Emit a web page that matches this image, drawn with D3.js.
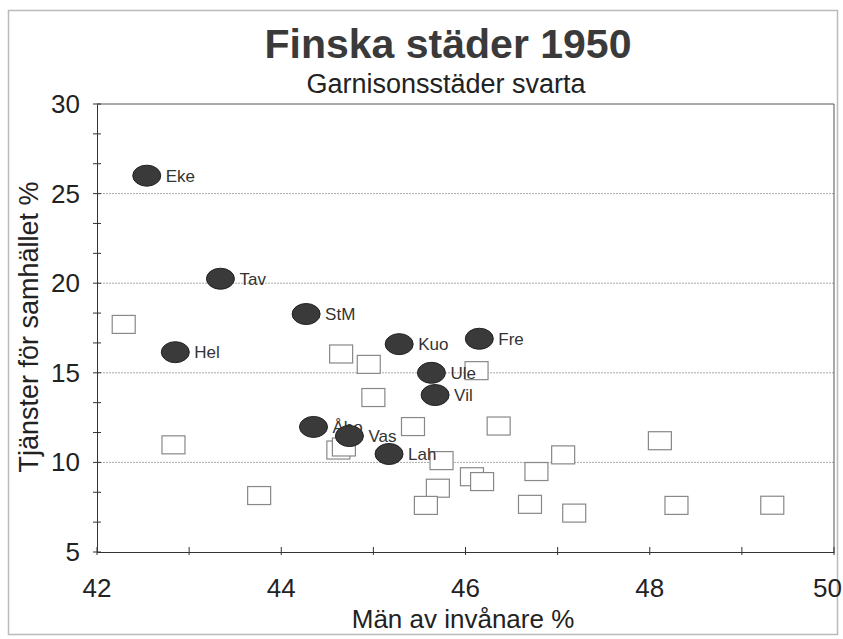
<!DOCTYPE html>
<html><head><meta charset="utf-8">
<script src="https://cdn.jsdelivr.net/npm/d3@7"></script>
<style>body{margin:0;background:#fff}svg{display:block}text{font-family:"Liberation Sans",Arial,sans-serif}</style>
</head><body><svg id="c" width="843" height="639"></svg>
<script>
// Garrison cities (black)
const garrisonNames = ["Eke","Tav","StM","Hel","Kuo","Fre","Ule","Vil","Åbo","Vas","Lah"];
const garrisonX = [42.54,43.34,44.27,42.85,45.28,46.15,45.63,45.67,44.35,44.74,45.17];
const garrisonY = [26.0,20.25,18.28,16.15,16.6,16.9,15.0,13.76,11.98,11.47,10.47];
// Other cities (hollow squares)
const otherX = [42.29,42.83,43.76,44.65,44.95,46.12,45.0,45.43,46.36,48.11,44.62,44.68,45.74,47.06,46.07,46.18,46.77,45.70,45.57,46.70,47.18,48.29,49.33];
const otherY = [17.7,10.98,8.15,16.05,15.47,15.12,13.62,12.0,12.03,11.21,10.69,10.86,10.1,10.42,9.2,8.93,9.49,8.56,7.6,7.66,7.17,7.6,7.61];
const xTicks = [42,44,46,48,50];
const yTicks = [5,10,15,20,25,30];
const titleText = "Finska städer 1950";
const subtitleText = "Garnisonsstäder svarta";
const xTitle = "Män av invånare %";
const yTitle = "Tjänster för samhället %";

const svg = d3.select("#c");
const L = 97, R = 834, T = 104, B = 552;
const x = d3.scaleLinear().domain([42,50]).range([L,R]);
const y = d3.scaleLinear().domain([5,30]).range([B,T]);

// outer border
svg.append("rect").attr("x",8.5).attr("y",10.5).attr("width",829).attr("height",624)
  .attr("fill","#fff").attr("stroke","#bbb").attr("stroke-width",1.5);

// gridlines
svg.append("g").selectAll("line").data(yTicks.filter(d=>d>5&&d<30)).join("line")
  .attr("x1",L).attr("x2",R).attr("y1",d=>y(d)).attr("y2",d=>y(d))
  .attr("stroke","#aaa").attr("stroke-width",1).attr("stroke-dasharray","2,1");

// plot frame top/right
svg.append("line").attr("x1",L).attr("x2",R).attr("y1",T).attr("y2",T).attr("stroke","#555");
svg.append("line").attr("x1",R).attr("x2",R).attr("y1",T).attr("y2",B).attr("stroke","#555");

// axes
const xAxis = d3.axisBottom(x).tickValues(d3.range(42,50.01,1)).tickSize(0).tickFormat("");
const gx = svg.append("g").attr("transform",`translate(0,${B})`).call(xAxis);
gx.select(".domain").attr("stroke","#333");
svg.append("g").selectAll("line").data(d3.range(42,50.01,1)).join("line")
  .attr("x1",d=>x(d)).attr("x2",d=>x(d)).attr("y1",B-5).attr("y2",B+3).attr("stroke","#333");
svg.append("g").selectAll("text").data(xTicks).join("text")
  .attr("x",d=>d===50?842:x(d)).attr("y",597)
  .attr("text-anchor",d=>d===50?"end":"middle")
  .attr("font-size",26).attr("fill","#222").text(d=>d);

const yAxis = d3.axisLeft(y).tickValues(yTicks).tickSize(0).tickFormat("");
const gy = svg.append("g").attr("transform",`translate(${L},0)`).call(yAxis);
gy.select(".domain").attr("stroke","#333");
svg.append("g").selectAll("line").data(d3.range(0,16).map(i=>5+i*5/3)).join("line")
  .attr("x1",L-4).attr("x2",L+4).attr("y1",d=>y(d)).attr("y2",d=>y(d)).attr("stroke","#333");
svg.append("g").selectAll("text").data(yTicks).join("text")
  .attr("x",80).attr("y",d=>y(d)+9).attr("text-anchor","end")
  .attr("font-size",26).attr("fill","#222").text(d=>d);

// titles
svg.append("text").attr("x",448).attr("y",58).attr("text-anchor","middle")
  .attr("font-size",41).attr("font-weight","bold").attr("fill","#3a3a3a").text(titleText);
svg.append("text").attr("x",446).attr("y",93).attr("text-anchor","middle")
  .attr("font-size",27).attr("fill","#222").text(subtitleText);
svg.append("text").attr("x",463).attr("y",628).attr("text-anchor","middle")
  .attr("font-size",26).attr("fill","#222").text(xTitle);
svg.append("text").attr("transform","translate(38,327) rotate(-90)").attr("text-anchor","middle")
  .attr("font-size",27).attr("fill","#222").text(yTitle);

// squares
svg.append("g").selectAll("rect").data(otherX.map((v,i)=>[v,otherY[i]])).join("rect")
  .attr("x",d=>x(d[0])-11.5).attr("y",d=>y(d[1])-9).attr("width",23).attr("height",18)
  .attr("fill","#fff").attr("stroke","#888").attr("stroke-width",1.2);

// garrison ellipses with labels
const gg = svg.append("g");
garrisonNames.forEach((n,i)=>{
  const cx = x(garrisonX[i]), cy = y(garrisonY[i]);
  gg.append("ellipse").attr("cx",cx).attr("cy",cy).attr("rx",14).attr("ry",10.5)
    .attr("fill","#3a3a3a").attr("stroke","#222").attr("stroke-width",1);
  gg.append("text").attr("x",cx+19).attr("y",cy+6).attr("font-size",17).attr("fill","#333").text(n);
});
</script></body></html>
